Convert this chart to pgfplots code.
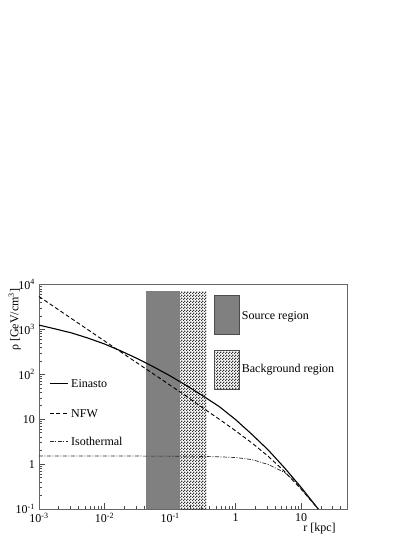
\documentclass[border=0pt]{standalone}
\usepackage{fontspec}
\setmainfont{Liberation Serif}
\usepackage{pgfplots}
\pgfplotsset{compat=1.18}
\usetikzlibrary{patterns}

% fine checkerboard for the background region
\pgfdeclarepatternformonly{finechecker}{\pgfpointorigin}{\pgfpoint{3pt}{3pt}}{\pgfpoint{3pt}{3pt}}{
  \pgfpathrectangle{\pgfpointorigin}{\pgfpoint{1.5pt}{1.5pt}}
  \pgfpathrectangle{\pgfpoint{1.5pt}{1.5pt}}{\pgfpoint{1.5pt}{1.5pt}}
  \pgfusepath{fill}
}

\begin{document}
\fontsize{12}{14.4}\selectfont
\begin{tikzpicture}
\path[use as bounding box] (0,0) rectangle (415pt,537pt);
\begin{axis}[
    at={(39pt,28pt)}, anchor=south west,
    scale only axis,
    width=308pt, height=224.5pt,
    xmode=log, ymode=log,
    xmin=1e-3, xmax=50,
    ymin=0.1, ymax=1e4,
    axis line style={black!60, line width=0.6pt},
    tick pos=left, tick align=inside,
    major tick length=6pt, minor tick length=3pt,
    every tick/.style={black!70, line width=0.5pt},
    xtick={0.001,0.01,0.1,1,10},
    xticklabels={10\textsuperscript{-3},10\textsuperscript{-2},10\textsuperscript{-1},1,10},
    minor xtick={0.002,0.003,0.004,0.005,0.006,0.007,0.008,0.009,
                 0.02,0.03,0.04,0.05,0.06,0.07,0.08,0.09,
                 0.2,0.3,0.4,0.5,0.6,0.7,0.8,0.9,
                 2,3,4,5,6,7,8,9,20,30,40},
    ytick={0.1,1,10,100,1000,10000},
    yticklabels={10\textsuperscript{-1},1,10,10\textsuperscript{2},10\textsuperscript{3},10\textsuperscript{4}},
    minor ytick={0.2,0.3,0.4,0.5,0.6,0.7,0.8,0.9,
                 2,3,4,5,6,7,8,9,20,30,40,50,60,70,80,90,
                 200,300,400,500,600,700,800,900,
                 2000,3000,4000,5000,6000,7000,8000,9000},
    xlabel={r [kpc]},
    ylabel={ρ [GeV/cm\textsuperscript{3}]},
    every axis x label/.style={at={(rel axis cs:0.977,0)}, anchor=base east, yshift=-22pt},
    every axis y label/.style={at={(rel axis cs:-0.0672,1)}, anchor=base east, rotate=90},
]
% source and background regions
\addplot[fill=black!50, draw=none] coordinates {(0.0435,0.1) (0.0435,7000) (0.143,7000) (0.143,0.1)} -- cycle;
\addplot[pattern=finechecker, pattern color=black!80, draw=none] coordinates {(0.143,0.1) (0.143,7000) (0.361,7000) (0.361,0.1)} -- cycle;

% Einasto
\addplot[black, line width=1.1pt] coordinates {
  (0.001,1247) (0.001778,1023) (0.003162,832) (0.005623,638) (0.01,473)
  (0.01778,331) (0.03162,224) (0.05623,146) (0.1,92.3) (0.1778,56.2)
  (0.3162,33.1) (0.5623,19.1) (1,9.77) (1.778,4.57) (3.162,2.04)
  (5.623,0.813) (10,0.302) (18.2,0.1)
};
% NFW
\addplot[black, line width=0.9pt, dash pattern=on 4pt off 2.5pt] coordinates {
  (0.001,5408) (0.001778,3055) (0.003162,1726) (0.005623,977) (0.01,552)
  (0.01778,313) (0.03162,178) (0.05623,101) (0.1,57.1) (0.1778,32.4)
  (0.3162,17.8) (0.5623,10) (1,5.5) (1.778,2.95) (3.162,1.48)
  (5.623,0.676) (10,0.275) (18.2,0.1)
};
% Isothermal
\addplot[black!85, line width=0.7pt, dash pattern=on 4pt off 1.5pt on 1pt off 1.5pt] coordinates {
  (0.001,1.51) (0.01,1.51) (0.1,1.505) (0.3162,1.48) (0.5623,1.45)
  (1,1.40) (1.778,1.26) (3.162,0.977) (5.623,0.646) (7.943,0.427)
  (10,0.282) (18.2,0.1)
};

% line key
\draw[black, line width=1.1pt] (rel axis cs:0.0357,0.56) -- (rel axis cs:0.0951,0.56);
\node[right, inner sep=0pt] at (rel axis cs:0.104,0.56) {Einasto};
\draw[black, line width=0.9pt, dash pattern=on 4pt off 2.5pt] (rel axis cs:0.0357,0.426) -- (rel axis cs:0.0951,0.426);
\node[right, inner sep=0pt] at (rel axis cs:0.104,0.426) {NFW};
\draw[black!85, line width=0.7pt, dash pattern=on 4pt off 1.5pt on 1pt off 1.5pt] (rel axis cs:0.0357,0.30) -- (rel axis cs:0.0951,0.30);
\node[right, inner sep=0pt] at (rel axis cs:0.104,0.30) {Isothermal};

% region key
\draw[black!70, line width=0.5pt, fill=black!50] (rel axis cs:0.569,0.778) rectangle (rel axis cs:0.649,0.953);
\node[right, inner sep=0pt] at (rel axis cs:0.658,0.854) {Source region};
\draw[black!70, line width=0.5pt, pattern=finechecker, pattern color=black!80] (rel axis cs:0.569,0.535) rectangle (rel axis cs:0.649,0.708);
\node[right, inner sep=0pt] at (rel axis cs:0.658,0.619) {Background region};
\end{axis}
\end{tikzpicture}
\end{document}
